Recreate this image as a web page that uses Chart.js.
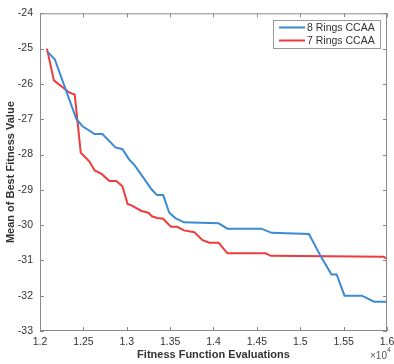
<!DOCTYPE html>
<html>
<head>
<meta charset="utf-8">
<script src="https://cdn.jsdelivr.net/npm/chart.js@4"></script>
<style>
  html, body { margin: 0; padding: 0; background: #fff; }
  #wrap { width: 394px; height: 364px; }
</style>
</head>
<body>
<div id="wrap"><canvas id="fitChart"></canvas></div>
<script>
// evaluations are in units of 10^4
const rings8X = [1.209, 1.217, 1.242, 1.249, 1.263, 1.272, 1.287, 1.295, 1.303, 1.309, 1.329, 1.335, 1.342, 1.349, 1.356, 1.366, 1.406, 1.416, 1.455, 1.467, 1.510, 1.524, 1.536, 1.542, 1.551, 1.571, 1.585, 1.600];
const rings8Y = [-25.1, -25.3, -27.0, -27.2, -27.42, -27.42, -27.8, -27.85, -28.15, -28.3, -29.0, -29.15, -29.15, -29.65, -29.8, -29.92, -29.95, -30.1, -30.1, -30.22, -30.25, -30.9, -31.4, -31.4, -32.0, -32.0, -32.17, -32.17];

const rings7X = [1.208, 1.216, 1.234, 1.240, 1.247, 1.257, 1.263, 1.271, 1.280, 1.288, 1.295, 1.301, 1.306, 1.317, 1.325, 1.329, 1.335, 1.342, 1.351, 1.358, 1.366, 1.378, 1.387, 1.395, 1.406, 1.416, 1.460, 1.466, 1.596, 1.600];
const rings7Y = [-25.0, -25.9, -26.25, -26.3, -27.95, -28.2, -28.45, -28.55, -28.75, -28.75, -28.9, -29.4, -29.45, -29.6, -29.65, -29.75, -29.8, -29.82, -30.05, -30.05, -30.15, -30.2, -30.42, -30.5, -30.5, -30.8, -30.8, -30.87, -30.9, -30.95];

const xTicks = [1.2, 1.25, 1.3, 1.35, 1.4, 1.45, 1.5, 1.55, 1.6];
const yTicks = [-33, -32, -31, -30, -29, -28, -27, -26, -25, -24];

const seriesNames = ["8 Rings CCAA", "7 Rings CCAA"];
const seriesColors = ["#3a8ad4", "#ee3b3b"];

const font = "'Liberation Sans', Arial, Helvetica, sans-serif";
const axisColor = "#8a8a8a";
const textColor = "#333";

function toPoints(xs, ys) {
  return xs.map((x, i) => ({ x: x, y: ys[i] }));
}

// box round the axes, inward tick marks, legend and the x10^4 note
const matlabAxes = {
  id: "matlabAxes",
  afterDraw(chart) {
    const ctx = chart.ctx;
    const a = chart.chartArea;
    const xs = chart.scales.x, ys = chart.scales.y;
    ctx.save();
    ctx.strokeStyle = axisColor;
    ctx.lineWidth = 1;
    ctx.strokeRect(a.left + 0.5, a.top + 0.5, a.right - a.left - 1, a.bottom - a.top - 1);
    ctx.beginPath();
    xTicks.forEach(v => {
      const px = Math.round(xs.getPixelForValue(v)) + 0.5;
      ctx.moveTo(px, a.bottom); ctx.lineTo(px, a.bottom - 4);
      ctx.moveTo(px, a.top); ctx.lineTo(px, a.top + 4);
    });
    yTicks.forEach(v => {
      const py = Math.round(ys.getPixelForValue(v)) + 0.5;
      ctx.moveTo(a.left, py); ctx.lineTo(a.left + 4, py);
      ctx.moveTo(a.right, py); ctx.lineTo(a.right - 4, py);
    });
    ctx.stroke();

    // legend
    const lx = 273, ly = 20, lw = 107, lh = 28;
    ctx.fillStyle = "#fff";
    ctx.fillRect(lx, ly, lw, lh);
    ctx.strokeStyle = "#9a9a9a";
    ctx.strokeRect(lx + 0.5, ly + 0.5, lw, lh);
    ctx.font = "10.5px " + font;
    ctx.textBaseline = "middle";
    chart.data.datasets.forEach((ds, i) => {
      const y = ly + 7.5 + i * 13;
      ctx.strokeStyle = ds.borderColor;
      ctx.lineWidth = 2;
      ctx.beginPath();
      ctx.moveTo(lx + 6, y); ctx.lineTo(lx + 32, y);
      ctx.stroke();
      ctx.fillStyle = textColor;
      ctx.fillText(ds.label, lx + 34, y + 0.5);
    });

    // exponent note
    ctx.fillStyle = "#555";
    ctx.font = "10px " + font;
    ctx.textBaseline = "alphabetic";
    ctx.fillText("\u00d710", 370, 359);
    ctx.font = "7px " + font;
    ctx.fillText("4", 387, 352);
    ctx.restore();
  }
};

new Chart(document.getElementById("fitChart"), {
  type: "line",
  data: {
    datasets: [
      {
        label: seriesNames[0],
        data: toPoints(rings8X, rings8Y),
        borderColor: seriesColors[0],
        borderWidth: 2,
        pointRadius: 0,
        tension: 0,
        fill: false
      },
      {
        label: seriesNames[1],
        data: toPoints(rings7X, rings7Y),
        borderColor: seriesColors[1],
        borderWidth: 2,
        pointRadius: 0,
        tension: 0,
        fill: false
      }
    ]
  },
  options: {
    responsive: true,
    maintainAspectRatio: false,
    animation: false,
    layout: { padding: { top: 12, right: 7, left: 0, bottom: 0 } },
    plugins: {
      legend: { display: false },
      tooltip: { enabled: false }
    },
    scales: {
      x: {
        type: "linear",
        min: 1.2,
        max: 1.6,
        afterBuildTicks: s => { s.ticks = xTicks.map(v => ({ value: v })); },
        afterFit: s => { s.height = 33; s.paddingLeft = 0; s.paddingRight = 0; },
        grid: { display: false, drawTicks: false },
        border: { display: false },
        ticks: {
          color: textColor,
          font: { family: font, size: 10.5 },
          padding: 5,
          maxRotation: 0,
          autoSkip: false,
          callback: v => String(+v.toFixed(2))
        },
        title: {
          display: true,
          text: "Fitness Function Evaluations",
          color: textColor,
          font: { family: font, size: 11, weight: "bold" },
          padding: { top: 0, bottom: 2 }
        }
      },
      y: {
        min: -33,
        max: -24,
        afterBuildTicks: s => { s.ticks = yTicks.map(v => ({ value: v })); },
        afterFit: s => { s.width = 40; },
        grid: { display: false, drawTicks: false },
        border: { display: false },
        ticks: {
          color: textColor,
          font: { family: font, size: 10.5 },
          padding: 7,
          autoSkip: false
        },
        title: {
          display: true,
          text: "Mean of Best Fitness Value",
          color: textColor,
          font: { family: font, size: 11, weight: "bold" },
          padding: { top: 4, bottom: 0 }
        }
      }
    }
  },
  plugins: [matlabAxes]
});
</script>
</body>
</html>
